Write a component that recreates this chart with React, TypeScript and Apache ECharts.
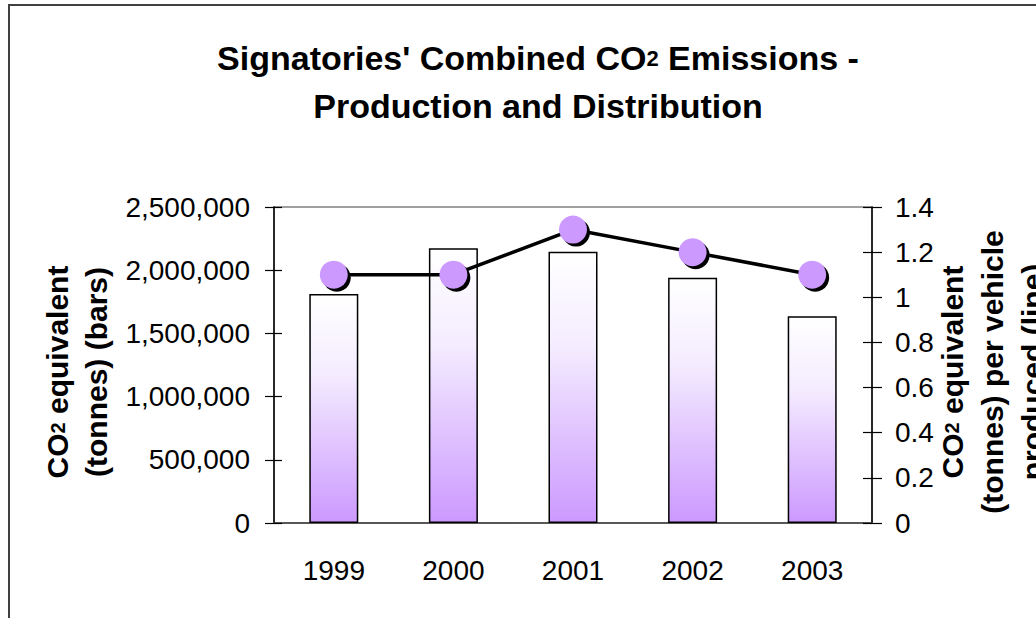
import React, { useEffect, useRef } from "react";
import * as echarts from "echarts";

const years = ["1999", "2000", "2001", "2002", "2003"];
const totalEmissions = [1812000, 2173000, 2146000, 1941000, 1635000];
const perVehicle = [1.1, 1.1, 1.3, 1.2, 1.1];
const leftAxisRange = [0, 2500000];
const leftAxisStep = 500000;
const rightAxisRange = [0, 1.4];
const rightAxisStep = 0.2;

const FONT = "'Liberation Sans', Arial, sans-serif";
const PURPLE = "#CC99FF";

export default function App() {
  const ref = useRef<HTMLDivElement>(null);
  useEffect(() => {
    document.body.style.margin = "0";
    const chart = echarts.init(ref.current!, null, { renderer: "svg" });
    const fmtLeft = (v: number) => v.toLocaleString("en-US");
    const fmtRight = (v: number) => String(+v.toFixed(1));
    const boldRich = (size: number, lh: number) => ({
      b: { fontFamily: FONT, fontWeight: "bold", fontSize: size, lineHeight: lh, fill: "#000", color: "#000" },
      s: { fontFamily: FONT, fontWeight: "bold", fontSize: Math.round(size * 0.65), lineHeight: lh, fill: "#000", color: "#000" },
    });
    const baseY = {
      type: "value" as const,
      splitLine: { show: false },
    };
    chart.setOption({
      animation: false,
      backgroundColor: "#fff",
      grid: {
        left: 274,
        top: 207,
        right: 164,
        bottom: 95,
        show: true,
        borderColor: "#808080",
        borderWidth: 1.5,
        backgroundColor: "transparent",
      },
      graphic: [
        {
          type: "rect",
          shape: { x: 9, y: 5, width: 1100, height: 700 },
          style: { fill: "none", stroke: "#404040", lineWidth: 2 },
          silent: true,
        },
        {
          type: "text",
          x: 538,
          y: 82,
          style: {
            text: "{b|Signatories' Combined CO}{s|2}{b| Emissions -}\n{b|Production and Distribution}",
            rich: boldRich(34, 48),
            align: "center",
            verticalAlign: "middle",
          },
        },
        {
          type: "text",
          x: 77,
          y: 372,
          rotation: Math.PI / 2,
          style: {
            text: "{b|CO}{s|2}{b| equivalent}\n{b|(tonnes) (bars)}",
            rich: boldRich(30, 39),
            align: "center",
            verticalAlign: "middle",
          },
        },
        {
          type: "text",
          x: 992,
          y: 372,
          rotation: Math.PI / 2,
          style: {
            text: "{b|CO}{s|2}{b| equivalent}\n{b|(tonnes) per vehicle}\n{b|produced (line)}",
            rich: boldRich(30, 40),
            align: "center",
            verticalAlign: "middle",
          },
        },
      ],
      xAxis: [
        {
          type: "category",
          data: years,
          position: "bottom",
          axisLine: { lineStyle: { color: "#404040", width: 1.5 } },
          axisTick: { length: 11, lineStyle: { color: "#000", width: 1.2 } },
          axisLabel: { fontFamily: FONT, fontSize: 28, color: "#000", margin: 33 },
        },
        {
          type: "category",
          data: years,
          position: "bottom",
          axisLine: { show: false },
          axisTick: { inside: true, length: 10, lineStyle: { color: "#000", width: 1.2 } },
          axisLabel: { show: false },
        },
      ],
      yAxis: [
        {
          ...baseY,
          position: "left",
          min: leftAxisRange[0],
          max: leftAxisRange[1],
          interval: leftAxisStep,
          axisLine: { show: true, lineStyle: { color: "#000", width: 1.5 } },
          axisTick: { show: true, length: 9, lineStyle: { color: "#000", width: 1.2 } },
          axisLabel: { fontFamily: FONT, fontSize: 28, color: "#000", margin: 24, formatter: fmtLeft },
        },
        {
          ...baseY,
          position: "right",
          min: rightAxisRange[0],
          max: rightAxisRange[1],
          interval: rightAxisStep,
          axisLine: { show: true, lineStyle: { color: "#000", width: 1.5 } },
          axisTick: { show: true, length: 10, lineStyle: { color: "#000", width: 1.2 } },
          axisLabel: { fontFamily: FONT, fontSize: 28, color: "#000", margin: 23, formatter: fmtRight },
        },
        {
          ...baseY,
          position: "left",
          min: leftAxisRange[0],
          max: leftAxisRange[1],
          interval: leftAxisStep,
          axisLine: { show: false },
          axisTick: { show: true, inside: true, length: 8, lineStyle: { color: "#000", width: 1.2 } },
          axisLabel: { show: false },
        },
        {
          ...baseY,
          position: "right",
          min: rightAxisRange[0],
          max: rightAxisRange[1],
          interval: rightAxisStep,
          axisLine: { show: false },
          axisTick: { show: true, inside: true, length: 9, lineStyle: { color: "#000", width: 1.2 } },
          axisLabel: { show: false },
        },
      ],
      series: [
        {
          type: "bar",
          name: "CO2 equivalent (tonnes)",
          data: totalEmissions,
          xAxisIndex: 0,
          yAxisIndex: 0,
          barWidth: 49,
          itemStyle: {
            borderColor: "#000",
            borderWidth: 1.5,
            color: new echarts.graphic.LinearGradient(0, 0, 0, 1, [
              { offset: 0, color: "#FFFFFF" },
              { offset: 0.35, color: "#F4ECFF" },
              { offset: 1, color: PURPLE },
            ]),
          },
          z: 2,
        },
        {
          type: "line",
          name: "per vehicle",
          data: perVehicle,
          xAxisIndex: 0,
          yAxisIndex: 1,
          symbol: "none",
          lineStyle: { color: "#000", width: 3.5 },
          z: 3,
        },
        {
          type: "scatter",
          name: "shadow",
          data: perVehicle,
          xAxisIndex: 0,
          yAxisIndex: 1,
          symbolSize: 28,
          symbolOffset: [3, 3],
          itemStyle: { color: "#000", opacity: 1 },
          z: 4,
          silent: true,
        },
        {
          type: "scatter",
          name: "marker",
          data: perVehicle,
          xAxisIndex: 0,
          yAxisIndex: 1,
          symbolSize: 28,
          itemStyle: { color: PURPLE, opacity: 1 },
          z: 5,
        },
      ],
    });
    return () => chart.dispose();
  }, []);
  return (
    <div
      ref={ref}
      style={{ position: "absolute", left: 0, top: 0, width: 1036, height: 618 }}
    />
  );
}
